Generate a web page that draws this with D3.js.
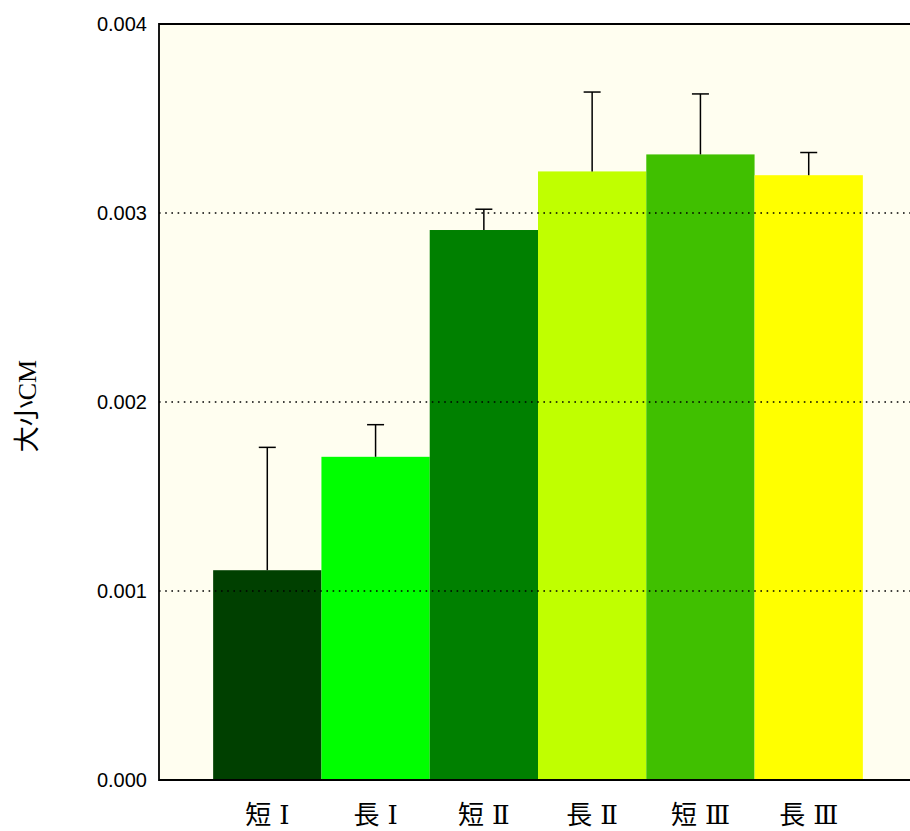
<!DOCTYPE html>
<html>
<head>
<meta charset="utf-8">
<script src="https://cdn.jsdelivr.net/npm/d3@7"></script>
<style>
  body { margin: 0; background: #fff; }
  svg { display: block; }
</style>
</head>
<body>
<svg id="chart" width="910" height="831"></svg>
<script>
// 类别与数值
var categories = ['短Ⅰ', '長Ⅰ', '短Ⅱ', '長Ⅱ', '短Ⅲ', '長Ⅲ']
var means = [0.00111, 0.00171, 0.00291, 0.00322, 0.00331, 0.00320]
var errors = [0.00065, 0.00017, 0.00011, 0.00042, 0.00032, 0.00012]
var barColors = ['#004000', '#00ff00', '#008000', '#c0ff00', '#40c000', '#ffff00']
var yTicks = [0, 0.001, 0.002, 0.003, 0.004]
var gridTicks = [0.001, 0.002, 0.003]

var svg = d3.select('#chart')
var plotLeft = 159, plotTop = 24, plotBottom = 780, plotW = 758

var x = d3.scaleBand().domain(categories).range([plotLeft, plotLeft + plotW])
  .paddingInner(0).paddingOuter(0.5)
var y = d3.scaleLinear().domain([0, 0.004]).range([plotBottom, plotTop])

// 背景
svg.append('rect')
  .attr('x', plotLeft).attr('y', plotTop)
  .attr('width', plotW).attr('height', plotBottom - plotTop)
  .attr('fill', '#fffef0')

// 柱子
svg.selectAll('rect.bar')
  .data(categories)
  .enter().append('rect')
  .attr('class', 'bar')
  .attr('x', (d) => x(d))
  .attr('y', (d, i) => y(means[i]))
  .attr('width', x.bandwidth())
  .attr('height', (d, i) => plotBottom - y(means[i]))
  .attr('fill', (d, i) => barColors[i])

// 误差线
var eb = svg.selectAll('g.err')
  .data(categories)
  .enter().append('g')
  .attr('class', 'err')
  .attr('stroke', '#000')
  .attr('stroke-width', 1.5)
eb.append('line')
  .attr('x1', (d) => x(d) + x.bandwidth() / 2)
  .attr('x2', (d) => x(d) + x.bandwidth() / 2)
  .attr('y1', (d, i) => y(means[i]))
  .attr('y2', (d, i) => y(means[i] + errors[i]))
eb.append('line')
  .attr('x1', (d) => x(d) + x.bandwidth() / 2 - 8.5)
  .attr('x2', (d) => x(d) + x.bandwidth() / 2 + 8.5)
  .attr('y1', (d, i) => y(means[i] + errors[i]))
  .attr('y2', (d, i) => y(means[i] + errors[i]))

// 网格线（画在柱子上面）
svg.selectAll('line.grid')
  .data(gridTicks)
  .enter().append('line')
  .attr('class', 'grid')
  .attr('x1', plotLeft).attr('x2', plotLeft + plotW)
  .attr('y1', (d) => y(d)).attr('y2', (d) => y(d))
  .attr('stroke', '#000')
  .attr('stroke-width', 1.6)
  .attr('stroke-dasharray', '1.6 4.6')

// 边框
svg.append('path')
  .attr('d', `M${plotLeft + plotW},${plotTop}H${plotLeft}V${plotBottom}H${plotLeft + plotW}`)
  .attr('fill', 'none')
  .attr('stroke', '#000')
  .attr('stroke-width', 1.8)

// y轴刻度文字
var yAxis = d3.axisLeft(y).tickValues(yTicks).tickFormat(d3.format('.3f'))
  .tickSize(0).tickPadding(12)
var yg = svg.append('g').attr('transform', `translate(${plotLeft},0)`).call(yAxis)
yg.select('.domain').remove()
yg.selectAll('text')
  .attr('font-family', '"Liberation Sans", Arial, sans-serif')
  .attr('font-size', 20)
  .attr('fill', '#000')

// x轴类别文字
svg.selectAll('text.cat')
  .data(categories)
  .enter().append('text')
  .attr('class', 'cat')
  .attr('x', (d) => x(d) + x.bandwidth() / 2 + 4)
  .attr('y', 824)
  .attr('text-anchor', 'middle')
  .attr('font-family', '"DejaVu Serif", "Noto Sans CJK JP", serif')
  .attr('font-size', 26)
  .attr('letter-spacing', 8)
  .attr('fill', '#000')
  .text((d) => d)

// y轴标题
svg.append('text')
  .attr('transform', 'translate(36,406) rotate(-90)')
  .attr('text-anchor', 'middle')
  .attr('font-family', '"Liberation Serif", "Noto Sans CJK JP", serif')
  .attr('font-size', 26)
  .attr('fill', '#000')
  .text('大小CM')
</script>
</body>
</html>
